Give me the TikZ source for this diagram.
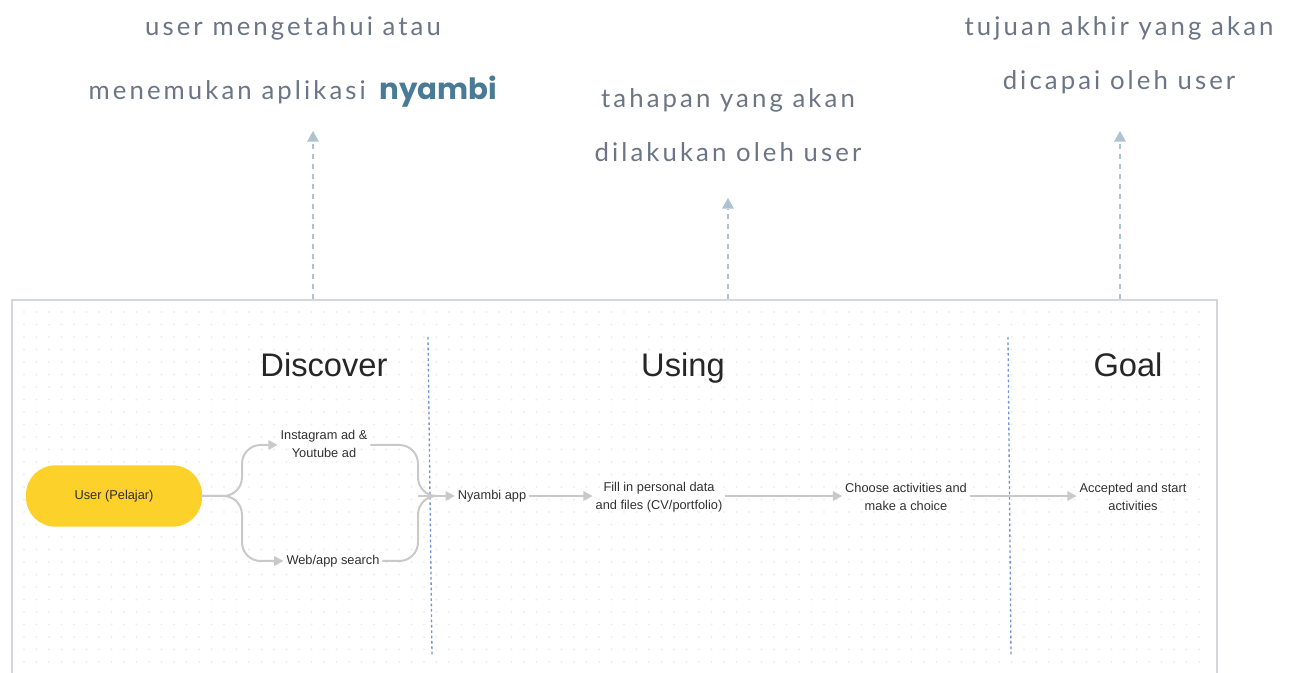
\documentclass[tikz,border=0pt]{standalone}
\usepackage{fontspec}
\usetikzlibrary{arrows.meta}
\newfontfamily\uifont{Liberation Sans}
\newfontfamily\notefont[LetterSpace=12]{Lato}
\newfontfamily\brandfont{Poppins}
\definecolor{notegray}{HTML}{6B7585}
\definecolor{brandblue}{HTML}{4A7B96}
\definecolor{hintblue}{HTML}{AEC2CF}
\definecolor{framegray}{HTML}{D3D6DE}
\definecolor{dotgray}{HTML}{ECECEC}
\definecolor{flowgray}{HTML}{C9C9C9}
\definecolor{labelgray}{HTML}{303030}
\definecolor{lanesep}{HTML}{6F95D6}
\definecolor{useryellow}{HTML}{FCD12A}
\tikzset{
  note/.style={anchor=base, text=notegray, font=\notefont\fontsize{19.3}{22}\selectfont, inner sep=0pt},
  hint/.style={draw=hintblue, line width=1.6pt, dash pattern=on 4pt off 3.5pt,
    -{Triangle[width=9pt,length=8pt,fill=hintblue,line width=0pt]}},
  heading/.style={anchor=base, text=black!85, font=\uifont\fontsize{24.5}{28}\selectfont, inner sep=0pt},
  label/.style={text=labelgray, font=\uifont\fontsize{9.6}{13.5}\selectfont, align=center, inner sep=2pt},
  flow/.style={draw=flowgray, line width=1.5pt, -{Triangle[width=7pt,length=7pt,fill=flowgray]}},
  flowline/.style={draw=flowgray, line width=1.5pt},
  lane/.style={draw=lanesep, line width=1pt, dash pattern=on 2pt off 2pt},
  userbox/.style={fill=useryellow, rounded corners=22pt, minimum width=132pt, minimum height=46pt,
    text=labelgray, font=\uifont\fontsize{9.6}{11}\selectfont}
}
\begin{document}
\begin{tikzpicture}[x=0.75pt,y=-0.75pt]
\useasboundingbox (0,0) rectangle (1290,673);

% faint dot grid behind the board
\foreach \gx in {24,36.5,...,1210} {
  \foreach \gy in {312,324.5,...,670} {
    \fill[dotgray] (\gx,\gy) circle (0.9pt);
  }
}

% board frame (open at the bottom)
\draw[framegray, line width=2.2pt] (12,673) -- (12,300) -- (1217,300) -- (1217,673);

% annotations above the board
\node[note] (n1a) at (293,36) {user mengetahui atau};
\node[note, anchor=base east] (n1b) at (366,100) {menemukan aplikasi};
\node[anchor=base west, inner sep=0pt, text=brandblue, font=\brandfont\bfseries\fontsize{22}{24}\selectfont] (brand) at (379,100) {nyambi};
\node[note] (n2a) at (728,108) {tahapan yang akan};
\node[note] (n2b) at (728,162) {dilakukan oleh user};
\node[note] (n3a) at (1119,36) {tujuan akhir yang akan};
\node[note] (n3b) at (1119,90) {dicapai oleh user};

\coordinate (h1s) at (313,299);
\coordinate (h1e) at (313,131);
\coordinate (h2s) at (728,299);
\coordinate (h2e) at (728,198);
\coordinate (h3s) at (1120,299);
\coordinate (h3e) at (1120,131);
\draw[hint] (h1s) -- (h1e);
\draw[hint] (h2s) -- (h2e);
\draw[hint] (h3s) -- (h3e);

% lanes
\coordinate (l1t) at (428,337);
\coordinate (l1b) at (432,655);
\coordinate (l2t) at (1008,337);
\coordinate (l2b) at (1011,655);
\draw[lane] (l1t) -- (l1b);
\draw[lane] (l2t) -- (l2b);

\node[heading] (discover) at (324,377) {Discover};
\node[heading] (using) at (683,377) {Using};
\node[heading] (goal) at (1128,377) {Goal};

% flow
\node[userbox] (user) at (114,496) {User (Pelajar)};
\node[label] (ads) at (324,444) {Instagram ad \&\\Youtube ad};
\node[label] (search) at (333,561) {Web/app search};
\node[label] (app) at (492,496) {Nyambi app};
\node[label] (fill) at (659,497) {Fill in personal data\\and files (CV/portfolio)};
\node[label] (choose) at (906,497) {Choose activities and\\make a choice};
\node[label] (accept) at (1133,497) {Accepted and start\\activities};

\coordinate (split) at (242,496);
\coordinate (join) at (418,496);

\draw[flow, rounded corners=14pt] (user.east) -- (split) -- (242,445) -- (ads.west |- 0,445);
\draw[flow, rounded corners=14pt] (user.east) -- (split) -- (242,561) -- (search.west);
\draw[flowline, rounded corners=14pt] (ads.east |- 0,445) -- (join |- 0,445) -- (join) -- (428,496);
\draw[flowline, rounded corners=14pt] (search.east) -- (join |- 0,561) -- (join) -- (428,496);
\draw[flow] (join) -- (app.west);
\draw[flow] (app.east) -- (app.east -| fill.west);
\draw[flow] (fill.east |- app.east) -- (app.east -| choose.west);
\draw[flow] (choose.east |- app.east) -- (app.east -| accept.west);
\end{tikzpicture}
\end{document}
